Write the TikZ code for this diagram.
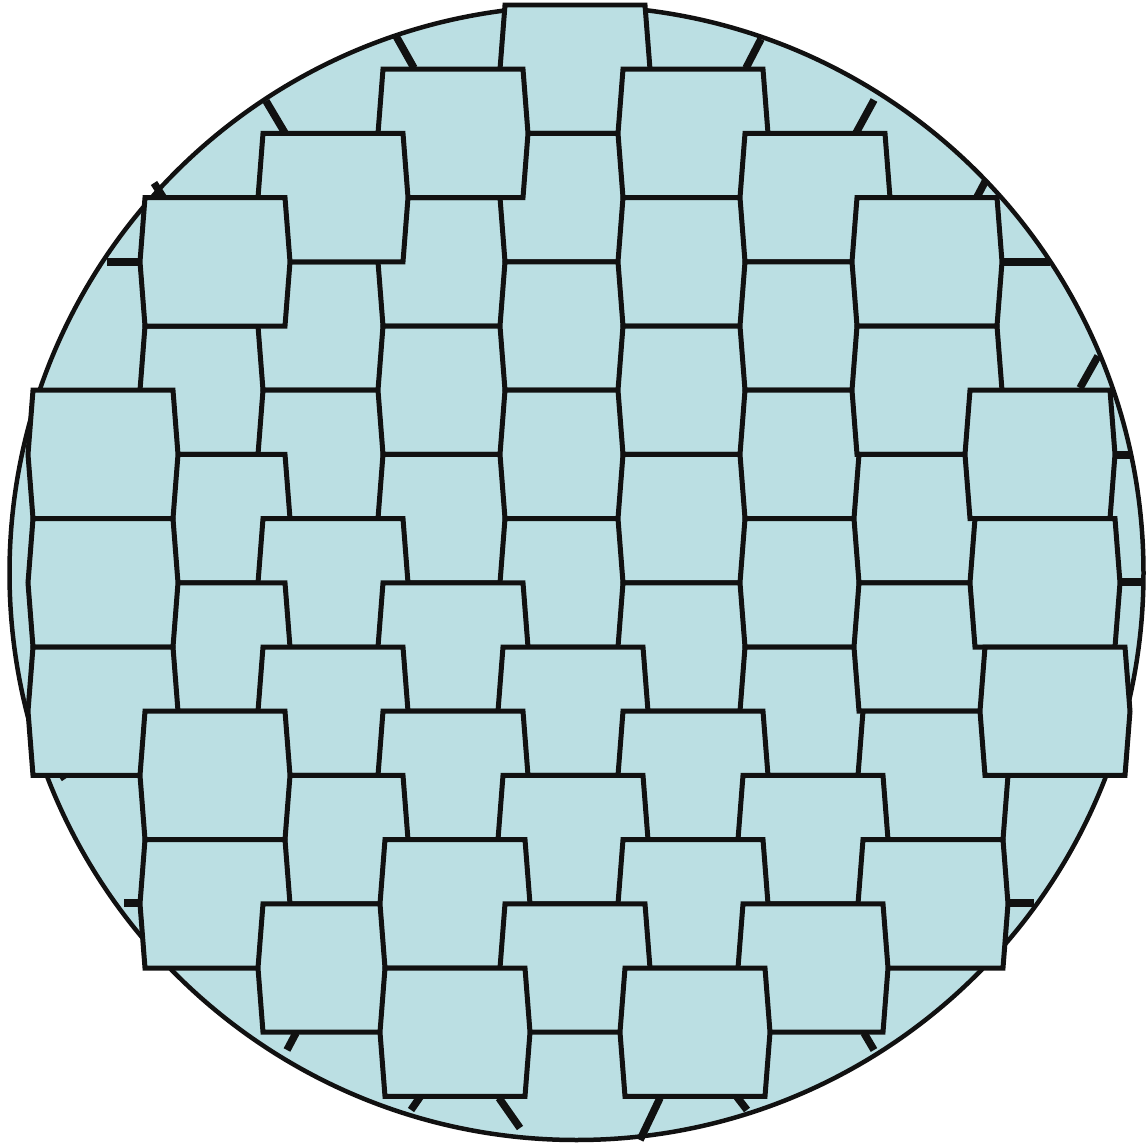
\documentclass[tikz,border=0pt]{standalone}
\usepackage{xcolor}
\definecolor{cellFill}{HTML}{BBDFE3}
\definecolor{cellLine}{HTML}{111111}

\begin{document}
\begin{tikzpicture}[x=0.1mm, y=-0.1mm,
    cell/.style={fill=cellFill, draw=cellLine, line width=0.5mm},
    rib/.style={draw=cellLine, line width=0.75mm}]
    \useasboundingbox (0,0) rectangle (1147,1145);
    \filldraw[fill=cellFill, draw=cellLine, line width=0.45mm] (576.5,573) circle (567);
    % short ribs at the rim
    \foreach \ax/\ay/\bx/\by in {396/36/414/68, 266/101/285/133, 154/183/163/197, 107/262/139/262,
        761/39/746/68, 874/100/856/133, 986/180/977/197, 1002/262/1050/262, 1098/356/1080/388,
        1115/455/1131/455, 1120/582/1144/582, 61/773/65/779, 124/903/139/903, 287/1050/296/1033,
        411/1110/420/1097, 499/1098/520/1128, 660/1098/640/1140, 747/1110/737/1097,
        874/1050/864/1033, 1008/903/1034/903}
        \draw[rib] (\ax,\ay) -- (\bx,\by);
    % cells, lowest layer first
    \foreach \cx/\r in {145/5, 505/0,
        263/4, 263/6,
        383/3, 383/5, 383/7, 145/7,
        505/2, 505/4, 505/6, 505/8, 33/6, 263/8,
        383/1, 623/1, 623/3, 623/5, 623/7, 623/9, 145/9, 383/9,
        263/2, 745/2, 745/4, 745/6, 745/8, 745/10, 33/8, 263/10, 33/10, 503/10,
        145/3, 857/3, 857/5, 859/7, 859/9, 863/11, 383/11, 623/11,
        970/6, 975/8, 985/10, 263/12, 503/12, 743/12,
        145/11, 145/13, 863/13, 623/13,
        263/14, 743/14,
        385/13,
        505/14,
        385/15, 625/15} {
        \pgfmathsetmacro\cy{5+64.2*\r}
        \draw[cell] (\cx,\cy) -- ++(140,0) -- ++(5,64.2) -- ++(-5,64.2) -- ++(-140,0)
            -- ++(-5,-64.2) -- cycle;
    }
\end{tikzpicture}
\end{document}
